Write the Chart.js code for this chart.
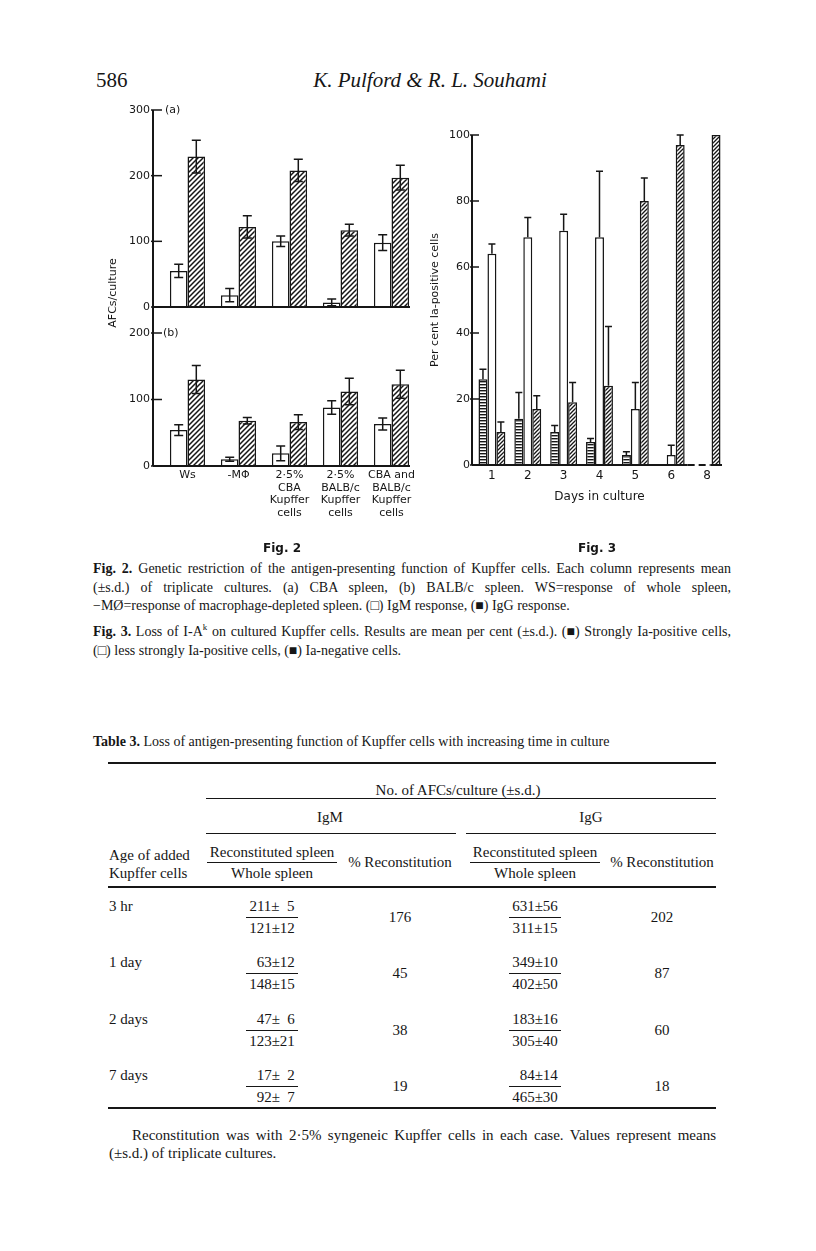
<!DOCTYPE html>
<html>
<head>
<meta charset="utf-8">
<script src="https://cdn.jsdelivr.net/npm/chart.js@4.4.0/dist/chart.umd.min.js"></script>
<style>
  body { margin: 0; background: #fff; }
  #page { position: relative; width: 816px; height: 1251px; overflow: hidden; color: #161616;
          font-family: "Liberation Serif", "Times New Roman", serif; }
  .t { position: absolute; white-space: nowrap; line-height: 18px; }
  .sans { font-family: "DejaVu Sans", sans-serif; }
  .rule { position: absolute; background: #161616; }
  canvas { position: absolute; }
</style>
</head>
<body>
<div id="page">
  <div class="t" style="left:96px;top:68px;font-size:21px;line-height:24px;">586</div>
  <div class="t" style="left:280px;width:300px;top:68px;font-size:21px;line-height:24px;text-align:center;font-style:italic;">K. Pulford &amp; R. L. Souhami</div>

  <canvas id="fig2a" width="330" height="250" style="left:100px;top:86px;"></canvas>
  <canvas id="fig2b" width="330" height="221" style="left:100px;top:309px;"></canvas>
  <canvas id="fig3" width="315" height="400" style="left:420px;top:120px;"></canvas>

  <div class="t sans" style="left:165px;top:101px;font-size:11px;">(a)</div>
  <div class="t sans" style="left:163px;top:324px;font-size:11px;">(b)</div>
  <div class="t sans" style="left:63px;top:284px;width:100px;text-align:center;font-size:11px;transform:rotate(-90deg);">AFCs/culture</div>

  <div class="t sans" style="left:232px;width:100px;top:539px;text-align:center;font-size:12px;font-weight:bold;">Fig. 2</div>
  <div class="t sans" style="left:547px;width:100px;top:539px;text-align:center;font-size:12px;font-weight:bold;">Fig. 3</div>

  <div id="text"></div>
</div>

<script>
// Fig. 2 - AFCs per culture, (a) CBA spleen, (b) BALB/c spleen
var fig2Groups = [['Ws'], ['-M\u03A6'], ['2\u00B75%', 'CBA', 'Kupffer', 'cells'],
                  ['2\u00B75%', 'BALB/c', 'Kupffer', 'cells'], ['CBA and', 'BALB/c', 'Kupffer', 'cells']];
var cbaIgM = [55, 18, 100, 7, 98];
var cbaIgMSd = [10, 10, 8, 5, 12];
var cbaIgG = [229, 122, 208, 117, 197];
var cbaIgGSd = [25, 17, 17, 9, 19];
var balbIgM = [54, 10, 19, 88, 63];
var balbIgMSd = [8, 3, 11, 10, 9];
var balbIgG = [130, 68, 66, 112, 123];
var balbIgGSd = [21, 5, 11, 20, 21];

// Fig. 3 - per cent Ia-positive cells by days in culture
var fig3Days = ['1', '2', '3', '4', '5', '6', '8'];
var strongIa = [26, 14, 10, 7, 3, null, null];
var strongIaSd = [3, 8, 2, 1, 1, null, null];
var lessIa = [64, 69, 71, 69, 17, 3, null];
var lessIaSd = [3, 6, 5, 20, 8, 3, null];
var negIa = [10, 17, 19, 24, 80, 97, 100];
var negIaSd = [3, 4, 6, 18, 7, 3, null];

// Table 3
var ages = ['3 hr', '1 day', '2 days', '7 days'];
var igmRecon = [[211, 5], [63, 12], [47, 6], [17, 2]];
var igmWhole = [[121, 12], [148, 15], [123, 21], [92, 7]];
var igmPct = [176, 45, 38, 19];
var iggRecon = [[631, 56], [349, 10], [183, 16], [84, 14]];
var iggWhole = [[311, 15], [402, 50], [305, 40], [465, 30]];
var iggPct = [202, 87, 60, 18];

var ink = '#161616';

function hatch(size, lw) {
  var c = document.createElement('canvas');
  c.width = c.height = size;
  var g = c.getContext('2d');
  g.fillStyle = '#fff';
  g.fillRect(0, 0, size, size);
  g.strokeStyle = ink;
  g.lineWidth = lw;
  g.beginPath();
  g.moveTo(-1, size + 1); g.lineTo(size + 1, -1);
  g.moveTo(-1, 1); g.lineTo(1, -1);
  g.moveTo(size - 1, size + 1); g.lineTo(size + 1, size - 1);
  g.stroke();
  return g.createPattern(c, 'repeat');
}

function stripes() {
  var c = document.createElement('canvas');
  c.width = 4; c.height = 3;
  var g = c.getContext('2d');
  g.fillStyle = '#fff';
  g.fillRect(0, 0, 4, 3);
  g.fillStyle = ink;
  g.fillRect(0, 0, 4, 1.4);
  return g.createPattern(c, 'repeat');
}

// error bars from dataset.sd
var errorBars = {
  id: 'errorBars',
  afterDatasetsDraw: function(chart, args, o) {
    var ctx = chart.ctx, y = chart.scales.y;
    ctx.save();
    ctx.strokeStyle = ink;
    ctx.lineWidth = 1.5;
    chart.data.datasets.forEach(function(ds, i) {
      chart.getDatasetMeta(i).data.forEach(function(bar, j) {
        var v = ds.data[j], s = ds.sd[j];
        if (v == null || s == null) return;
        var top = y.getPixelForValue(v + s);
        var bot = o.both ? y.getPixelForValue(Math.max(v - s, 0)) : y.getPixelForValue(v);
        ctx.beginPath();
        ctx.moveTo(bar.x, top); ctx.lineTo(bar.x, bot);
        ctx.moveTo(bar.x - o.cap, top); ctx.lineTo(bar.x + o.cap, top);
        if (o.both) { ctx.moveTo(bar.x - o.cap, bot); ctx.lineTo(bar.x + o.cap, bot); }
        ctx.stroke();
      });
    });
    ctx.restore();
  }
};

// axis lines with inward ticks
var frame = {
  id: 'frame',
  afterDatasetsDraw: function(chart, args, o) {
    var ctx = chart.ctx, a = chart.chartArea, y = chart.scales.y;
    var ax = a.left - o.shift;
    var end = a.right - o.endIn;
    ctx.save();
    ctx.strokeStyle = ink;
    ctx.lineWidth = 2;
    ctx.beginPath();
    ctx.moveTo(ax, o.fromTop ? 0 : a.top);
    ctx.lineTo(ax, o.toBottom ? chart.height : a.bottom);
    ctx.stroke();
    ctx.beginPath();
    if (o.breakAfter != null) {
      var meta = chart.getDatasetMeta(2);
      var b1 = meta.data[o.breakAfter], b2 = meta.data[o.breakAfter + 1];
      var g1 = b1.x + b1.width / 2 + 3, g2 = b2.x - b2.width / 2 - 1;
      ctx.moveTo(ax, a.bottom); ctx.lineTo(g1, a.bottom);
      ctx.moveTo(g2, a.bottom); ctx.lineTo(end, a.bottom);
      ctx.stroke();
      ctx.beginPath();
      ctx.setLineDash([7, 4]);
      ctx.moveTo(g1, a.bottom); ctx.lineTo(g2, a.bottom);
      ctx.stroke();
      ctx.setLineDash([]);
    } else {
      ctx.moveTo(ax, a.bottom); ctx.lineTo(end, a.bottom);
      ctx.stroke();
    }
    ctx.lineWidth = 1.5;
    y.ticks.forEach(function(t) {
      var py = y.getPixelForValue(t.value);
      ctx.beginPath();
      ctx.moveTo(ax - 2, py); ctx.lineTo(ax + o.tick, py);
      ctx.stroke();
    });
    ctx.restore();
  }
};

Chart.defaults.color = ink;
Chart.defaults.font.family = '"DejaVu Sans", sans-serif';
Chart.defaults.animation = false;
Chart.defaults.plugins.legend.display = false;
Chart.defaults.plugins.tooltip.enabled = false;

var hatch2 = hatch(5, 1.5);
var hatch3 = hatch(4, 1.3);
var stripe3 = stripes();

function fig2(id, igm, igmSd, igg, iggSd, max, showX, pad, fromTop, toBottom) {
  return new Chart(document.getElementById(id), {
    type: 'bar',
    data: {
      labels: fig2Groups,
      datasets: [
        { label: 'IgM', data: igm, sd: igmSd, backgroundColor: '#fff', borderColor: ink, borderWidth: 1.5 },
        { label: 'IgG', data: igg, sd: iggSd, backgroundColor: hatch2, borderColor: ink, borderWidth: 1.5 }
      ]
    },
    options: {
      responsive: false,
      devicePixelRatio: 1,
      layout: { padding: { top: pad[0], right: 13, left: 0, bottom: pad[1] } },
      datasets: { bar: { categoryPercentage: 0.69, barPercentage: 1 } },
      scales: {
        x: {
          display: showX,
          grid: { display: false, drawTicks: false },
          border: { display: false },
          ticks: { autoSkip: false, maxRotation: 0, padding: 3, font: { size: 11, lineHeight: 1.15 } },
          afterFit: function(s) { if (showX) s.height = 64; }
        },
        y: {
          min: 0, max: max,
          grid: { display: false, drawTicks: false },
          border: { display: false },
          ticks: { stepSize: 100, padding: 12, font: { size: 11 } },
          afterFit: function(s) { s.width = 62; }
        }
      },
      plugins: {
        errorBars: { both: true, cap: 4.5 },
        frame: { shift: 9, endIn: 7, tick: 9, fromTop: fromTop, toBottom: toBottom }
      }
    },
    plugins: [errorBars, frame]
  });
}

fig2('fig2a', cbaIgM, cbaIgMSd, cbaIgG, cbaIgGSd, 300, false, [24, 29], false, true);
fig2('fig2b', balbIgM, balbIgMSd, balbIgG, balbIgGSd, 200, true, [24, 0], true, false);

new Chart(document.getElementById('fig3'), {
  type: 'bar',
  data: {
    labels: fig3Days,
    datasets: [
      { label: 'Strongly Ia-positive', data: strongIa, sd: strongIaSd, backgroundColor: stripe3, borderColor: ink, borderWidth: 1.5 },
      { label: 'Less strongly Ia-positive', data: lessIa, sd: lessIaSd, backgroundColor: '#fff', borderColor: ink, borderWidth: 1.5 },
      { label: 'Ia-negative', data: negIa, sd: negIaSd, backgroundColor: hatch3, borderColor: ink, borderWidth: 1.5 }
    ]
  },
  options: {
    responsive: false,
    devicePixelRatio: 1,
    layout: { padding: { top: 15, right: 10, left: 0, bottom: 0 } },
    datasets: { bar: { categoryPercentage: 0.75, barPercentage: 1 } },
    scales: {
      x: {
        grid: { display: false, drawTicks: false },
        border: { display: false },
        ticks: { padding: 4, font: { size: 12 } },
        title: { display: true, text: 'Days in culture', font: { size: 12 }, padding: { top: 4, bottom: 16 } },
        afterFit: function(s) { s.height = 55; }
      },
      y: {
        min: 0, max: 100,
        grid: { display: false, drawTicks: false },
        border: { display: false },
        ticks: { stepSize: 20, padding: 4, font: { size: 11 } },
        title: { display: true, text: 'Per cent Ia-positive cells', font: { size: 11 }, padding: { top: 9 } },
        afterFit: function(s) { s.width = 54; }
      }
    },
    plugins: {
      errorBars: { both: false, cap: 3.5 },
      frame: { shift: 2, endIn: 3, tick: 7, breakAfter: 5 }
    }
  },
  plugins: [errorBars, frame]
});

// ---- text: captions and table ----
var out = document.getElementById('text');

function put(html, x, y, size, align, w) {
  var d = document.createElement('div');
  d.className = 't';
  d.style.fontSize = size + 'px';
  d.style.top = (y - 9) + 'px';
  if (align === 'center') {
    d.style.left = (x - 100) + 'px'; d.style.width = '200px'; d.style.textAlign = 'center';
  } else {
    d.style.left = x + 'px';
  }
  d.innerHTML = html;
  out.appendChild(d);
  if (w) {
    var n = (d.textContent.match(/ /g) || []).length;
    var cur = d.getBoundingClientRect().width;
    d.style.wordSpacing = ((w - cur) / n) + 'px';
  }
  return d;
}

function rule(x1, x2, y, h) {
  var r = document.createElement('div');
  r.className = 'rule';
  r.style.left = x1 + 'px'; r.style.width = (x2 - x1) + 'px';
  r.style.top = y + 'px'; r.style.height = (h || 1) + 'px';
  out.appendChild(r);
}

var capL = 93, capW = 638;
put('<b>Fig. 2.</b> Genetic restriction of the antigen-presenting function of Kupffer cells. Each column represents mean', capL, 569, 14, 'left', capW);
put('(\u00B1s.d.) of triplicate cultures. (a) CBA spleen, (b) BALB/c spleen. WS=response of whole spleen,', capL, 588, 14, 'left', capW);
put('\u2212M\u00D8=response of macrophage-depleted spleen. (\u25A1) IgM response, (\u25A0) IgG response.', capL, 606, 14, 'left');
put('<b>Fig. 3.</b> Loss of I-A<sup style="font-size:9px;line-height:0">k</sup> on cultured Kupffer cells. Results are mean per cent (\u00B1s.d.). (\u25A0) Strongly Ia-positive cells,', capL, 632, 14, 'left', capW);
put('(\u25A1) less strongly Ia-positive cells, (\u25A0) Ia-negative cells.', capL, 651, 14, 'left');

put('<b>Table 3.</b> Loss of antigen-presenting function of Kupffer cells with increasing time in culture', 93, 742, 14, 'left');

var tL = 108, tR = 716;
var cFracM = 272, cPctM = 400, cFracG = 535, cPctG = 662;
rule(tL, tR, 762, 1.5);
put('No. of AFCs/culture (\u00B1s.d.)', 458, 790, 15, 'center');
rule(206, tR, 798, 1);
put('IgM', 330, 817, 15, 'center');
put('IgG', 591, 817, 15, 'center');
rule(206, 456, 833, 1);
rule(466, tR, 833, 1);
put('Age of added', tL + 1, 855, 15, 'left');
put('Kupffer cells', tL + 1, 873, 15, 'left');
put('Reconstituted spleen', cFracM, 852, 15, 'center');
rule(cFracM - 65, cFracM + 65, 862, 1);
put('Whole spleen', cFracM, 873, 15, 'center');
put('% Reconstitution', cPctM, 862, 15, 'center');
put('Reconstituted spleen', cFracG, 852, 15, 'center');
rule(cFracG - 65, cFracG + 65, 862, 1);
put('Whole spleen', cFracG, 873, 15, 'center');
put('% Reconstitution', cPctG, 862, 15, 'center');
rule(tL, tR, 886, 2);

function pm(v) {
  var fs = '\u2007';
  var m = String(v[0]), s = String(v[1]);
  while (m.length < 3) m = fs + m;
  while (s.length < 2) s = fs + s;
  return m + '\u00B1' + s;
}

var rowY = [906, 962, 1019, 1075];
for (var i = 0; i < ages.length; i++) {
  var y = rowY[i];
  put(ages[i], tL + 1, y, 15, 'left');
  put(pm(igmRecon[i]), cFracM, y, 15, 'center');
  rule(cFracM - 26, cFracM + 26, y + 11, 1);
  put(pm(igmWhole[i]), cFracM, y + 22, 15, 'center');
  put(String(igmPct[i]), cPctM, y + 11, 15, 'center');
  put(pm(iggRecon[i]), cFracG, y, 15, 'center');
  rule(cFracG - 26, cFracG + 26, y + 11, 1);
  put(pm(iggWhole[i]), cFracG, y + 22, 15, 'center');
  put(String(iggPct[i]), cPctG, y + 11, 15, 'center');
}
rule(tL, tR, 1107, 2);

put('Reconstitution was with 2\u00B75% syngeneic Kupffer cells in each case. Values represent means', 132, 1135, 15, 'left', tR - 132);
put('(\u00B1s.d.) of triplicate cultures.', tL + 1, 1153, 15, 'left');
</script>
</body>
</html>
